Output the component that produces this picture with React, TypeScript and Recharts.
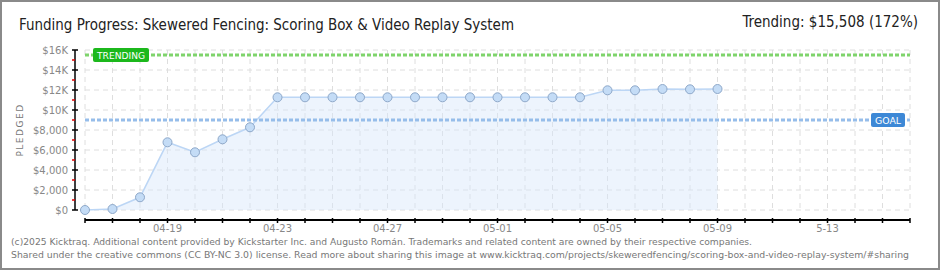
import React from "react";
import {
  ComposedChart,
  Area,
  XAxis,
  YAxis,
  CartesianGrid,
  ReferenceLine,
} from "recharts";

// one entry per day on the x axis (04-16 .. 05-16)
const days = [
  "04-16", "04-17", "04-18", "04-19", "04-20", "04-21", "04-22", "04-23",
  "04-24", "04-25", "04-26", "04-27", "04-28", "04-29", "04-30", "05-01",
  "05-02", "05-03", "05-04", "05-05", "05-06", "05-07", "05-08", "05-09",
  "05-10", "05-11", "05-12", "05-13", "05-14", "05-15", "05-16",
];

// pledged totals (04-16 .. 05-09)
const pledged = [
  0, 100, 1270, 6770, 5770, 7070, 8270, 11270,
  11270, 11270, 11270, 11270, 11270, 11270, 11270, 11270,
  11270, 11270, 11270, 11970, 11970, 12100, 12070, 12100,
];

const labeledDays = ["04-19", "04-23", "04-27", "05-01", "05-05", "05-09", "05-13"];
const tickLabels = ["04-19", "04-23", "04-27", "05-01", "05-05", "05-09", "5-13"];

const yTicks = [
  0, 1000, 2000, 3000, 4000, 5000, 6000, 7000, 8000,
  9000, 10000, 11000, 12000, 13000, 14000, 15000, 16000,
];
const gridValues = [0, 2000, 4000, 6000, 8000, 10000, 12000, 14000, 16000];

const goal = 9000;
const trending = 15508;

const data = days.map((day, i) => ({ day, pledged: pledged[i] }));

const tickFont = "'DejaVu Sans', sans-serif";
const narrowFont = "'Liberation Sans Narrow', 'DejaVu Sans Condensed', sans-serif";

const fmtMoney = (v: number) =>
  v >= 10000 ? `$${v / 1000}K` : `$${v.toLocaleString("en-US")}`;

const YTick = (props: any) => {
  const { x, y, payload } = props;
  const v = payload.value;
  const major = v % 2000 === 0;
  return (
    <g>
      <line
        x1={x - 13}
        x2={major ? x - 7 : x - 10}
        y1={y}
        y2={y}
        stroke={major ? "#000" : "#e00000"}
        strokeWidth={1.5}
      />
      {major && (
        <text
          x={x - 17}
          y={y}
          dy={4}
          textAnchor="end"
          fontSize={10}
          fontFamily={tickFont}
          fill="#888"
        >
          {fmtMoney(v)}
        </text>
      )}
    </g>
  );
};

const XTick = (props: any) => {
  const { x, y, payload } = props;
  const idx = labeledDays.indexOf(payload.value);
  return (
    <g>
      <line x1={x} x2={x} y1={y + 8} y2={y + 13} stroke="#000" strokeWidth={1.5} />
      {idx >= 0 && (
        <text
          x={x}
          y={y + 22}
          textAnchor="middle"
          fontSize={10}
          fontFamily={tickFont}
          fill="#888"
        >
          {tickLabels[idx]}
        </text>
      )}
    </g>
  );
};

const PledgedLabel = (props: any) => {
  const { viewBox } = props;
  const cx = viewBox.x + 20;
  const cy = viewBox.y + viewBox.height / 2;
  return (
    <text
      x={cx}
      y={cy}
      transform={`rotate(-90 ${cx} ${cy})`}
      textAnchor="middle"
      dominantBaseline="central"
      fontSize={9}
      letterSpacing={1.5}
      fontFamily={tickFont}
      fill="#777"
    >
      PLEDGED
    </text>
  );
};

const Tag = (text: string, color: string, width: number, atEnd: boolean) =>
  (props: any) => {
    const { viewBox } = props;
    const left = atEnd ? viewBox.x + viewBox.width - width - 5 : viewBox.x + 8;
    return (
      <g>
        <rect x={left} y={viewBox.y - 7} width={width} height={14} rx={2} fill={color} />
        <text
          x={left + 4}
          y={viewBox.y + 4}
          fontSize={9}
          fontFamily={tickFont}
          fill="#fff"
          textLength={width - 8}
          lengthAdjust="spacingAndGlyphs"
        >
          {text}
        </text>
      </g>
    );
  };

const TrendingTag = Tag("TRENDING", "#1cb81c", 56, false);
const GoalTag = Tag("GOAL", "#3d88d6", 34, true);

const App = () => {
  return (
    <div
      style={{
        position: "absolute",
        left: 0,
        top: 0,
        width: 940,
        height: 270,
        background: "#fff",
      }}
    >
      <ComposedChart
        width={940}
        height={270}
        data={data}
        margin={{ top: 50, right: 30, bottom: 0, left: 0 }}
      >
        <CartesianGrid
          stroke="#dedede"
          strokeDasharray="5 4"
          horizontalValues={gridValues}
        />
        <XAxis
          dataKey="day"
          type="category"
          scale="point"
          interval={0}
          height={60}
          tickSize={0}
          tickMargin={0}
          tickLine={false}
          tick={<XTick />}
          axisLine={{ stroke: "#000", strokeWidth: 2, transform: "translate(0 10)" }}
        />
        <YAxis
          type="number"
          domain={[0, 16000]}
          ticks={yTicks}
          interval={0}
          width={85}
          tickSize={0}
          tickMargin={0}
          tickLine={false}
          tick={<YTick />}
          axisLine={{ stroke: "#000", strokeWidth: 1.5, transform: "translate(-10 0)" }}
          label={{ content: <PledgedLabel /> }}
        />
        <Area
          dataKey="pledged"
          type="linear"
          stroke="#bcd6f5"
          strokeWidth={1.5}
          fill="#d6e7fa"
          fillOpacity={0.45}
          dot={{ r: 4.5, fill: "#c4dcf6", stroke: "#8ea8c9", strokeWidth: 1, fillOpacity: 1 }}
          activeDot={false}
          isAnimationActive={false}
        />
        <ReferenceLine
          y={trending}
          stroke="#7fd46c"
          strokeWidth={3}
          strokeDasharray="4 2"
          label={{ content: <TrendingTag /> }}
        />
        <ReferenceLine
          y={goal}
          stroke="#96bdea"
          strokeWidth={3}
          strokeDasharray="4 2"
          label={{ content: <GoalTag /> }}
        />
      </ComposedChart>

      <svg
        width={940}
        height={270}
        style={{ position: "absolute", left: 0, top: 0, pointerEvents: "none" }}
      >
        <text
          x={19}
          y={30}
          fontSize={16}
          fontFamily={narrowFont}
          fill="#222"
          textLength={495}
          lengthAdjust="spacingAndGlyphs"
        >
          Funding Progress: Skewered Fencing: Scoring Box &amp; Video Replay System
        </text>
        <text
          x={918}
          y={27}
          textAnchor="end"
          fontSize={15}
          fontFamily={narrowFont}
          fill="#222"
        >
          Trending:  $15,508 (172%)
        </text>
        <text
          x={11}
          y={245}
          fontSize={9}
          fontFamily={tickFont}
          fill="#777"
          textLength={741}
          lengthAdjust="spacingAndGlyphs"
        >
          (c)2025 Kicktraq. Additional content provided by Kickstarter Inc. and Augusto Román. Trademarks and related content are owned by their respective companies.
        </text>
        <text
          x={11}
          y={258}
          fontSize={9}
          fontFamily={tickFont}
          fill="#777"
          textLength={898}
          lengthAdjust="spacingAndGlyphs"
        >
          Shared under the creative commons (CC BY-NC 3.0) license. Read more about sharing this image at www.kicktraq.com/projects/skeweredfencing/scoring-box-and-video-replay-system/#sharing
        </text>
      </svg>

      <div
        style={{
          position: "absolute",
          left: 0,
          top: 0,
          width: 940,
          height: 270,
          boxSizing: "border-box",
          border: "2px solid #8a8a8a",
          pointerEvents: "none",
        }}
      />
    </div>
  );
};

export default App;
